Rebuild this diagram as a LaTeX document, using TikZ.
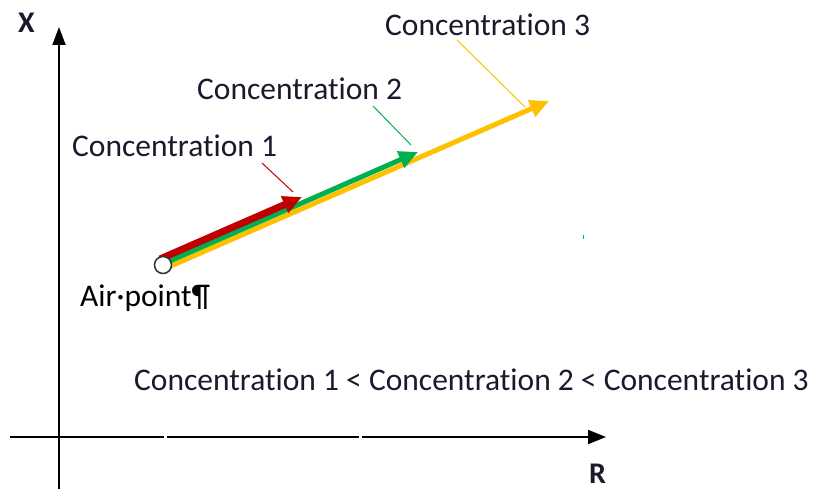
\documentclass[tikz,border=0pt]{standalone}
\usepackage{fontspec}
\setmainfont[Ligatures=NoCommon]{Carlito}
\usetikzlibrary{arrows.meta}
\definecolor{cred}{HTML}{C00000}
\definecolor{cgreen}{HTML}{00B050}
\definecolor{cyellow}{HTML}{FFC000}
\definecolor{ctext}{HTML}{1A1A2E}
\tikzset{
  lbl/.style={anchor=base west, inner sep=0pt, text=ctext, font=\fontsize{31.5}{36}\selectfont},
  axlbl/.style={anchor=base west, inner sep=0pt, text=ctext, font=\fontsize{30}{36}\selectfont\bfseries},
  axis/.style={line width=1.8pt, black},
  tip/.style={-{Triangle[length=19pt,width=17pt]}},
  leader/.style={line width=1pt},
}
\begin{document}
\begin{tikzpicture}[x=1pt,y=-1pt]
\useasboundingbox (0,0) rectangle (818,489);
% axes
\coordinate (ybot) at (59,489);
\coordinate (ytop) at (59,27);
\coordinate (xl) at (10,437);
\coordinate (g1a) at (164,437);
\coordinate (g1b) at (167,437);
\coordinate (g2a) at (359,437);
\coordinate (g2b) at (362,437);
\coordinate (xr) at (606,437);
\draw[axis,-{Triangle[length=18pt,width=13pt]}] (ybot) -- (ytop);
\draw[axis] (xl) -- (g1a);
\draw[axis] (g1b) -- (g2a);
\draw[axis,-{Triangle[length=18pt,width=14pt]}] (g2b) -- (xr);
\node[axlbl] (xlab) at (18,33) {X};
\node[axlbl] (rlab) at (589,483) {R};
% vectors
\coordinate (ys) at (166,268);
\coordinate (ye) at (549,101);
\coordinate (gs) at (163,264);
\coordinate (ge) at (418,152);
\coordinate (rs) at (160,259);
\coordinate (re) at (302,197);
\draw[cyellow,line width=5pt,tip] (ys) -- (ye);
\draw[cgreen,line width=5pt,tip] (gs) -- (ge);
\draw[cred,line width=7pt,tip] (rs) -- (re);
\node[circle,draw=black!80,line width=1.5pt,fill=white,minimum size=17pt,inner sep=0pt] (air) at (163,265) {};
% labels
\node[lbl] (c1) at (72,157) {Concentration 1};
\node[lbl] (c2) at (197,100) {Concentration 2};
\node[lbl] (c3) at (385,36) {Concentration 3};
\node[lbl,text=black] (ap) at (80,306) {Air·point¶};
\node[lbl] (cmp) at (134,390) {Concentration 1 < Concentration 2 < Concentration 3};
% leaders
\coordinate (l1a) at (262,163);
\coordinate (l1b) at (293,192);
\coordinate (l2a) at (373,106);
\coordinate (l2b) at (411,145);
\coordinate (l3a) at (457,40);
\coordinate (l3b) at (525,107);
\draw[leader,cred] (l1a) -- (l1b);
\draw[leader,cgreen] (l2a) -- (l2b);
\draw[leader,cyellow] (l3a) -- (l3b);
% stray dot
\fill[cgreen] (582.5,235) rectangle (584,239);
\end{tikzpicture}
\end{document}
